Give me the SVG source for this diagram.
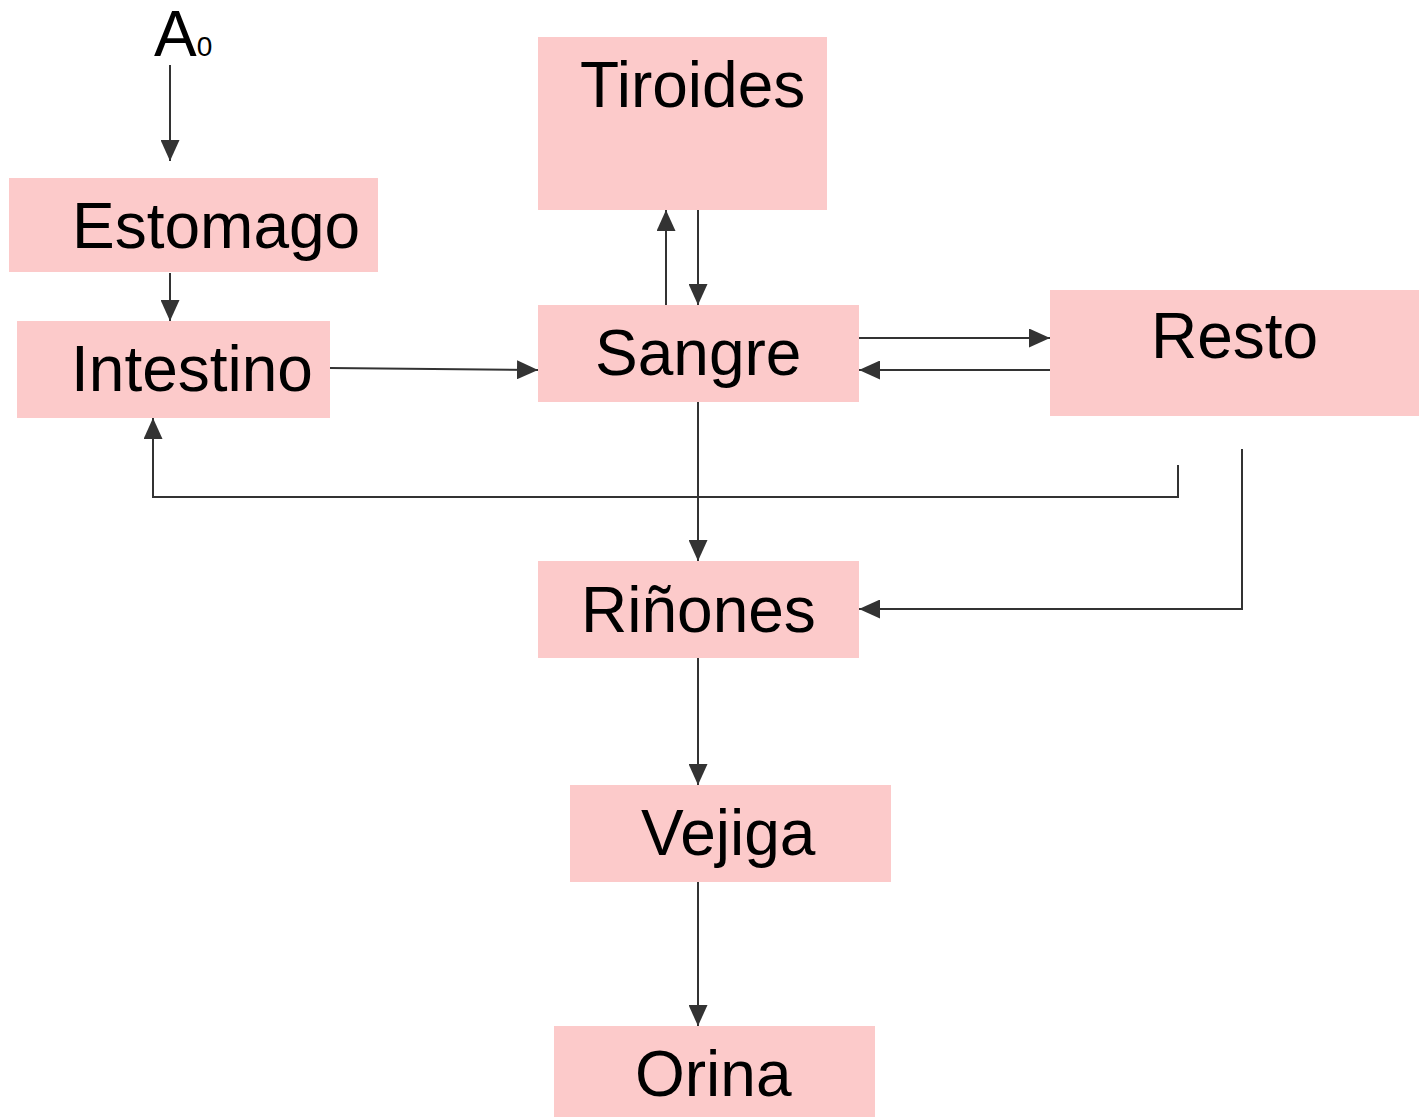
<svg xmlns="http://www.w3.org/2000/svg" width="1420" height="1117" viewBox="0 0 1420 1117">
<style>
.box{fill:#fccaca}
.lbl{font-family:"Liberation Sans",Arial,sans-serif;font-size:64px;fill:#000}
.edge{fill:none;stroke:#333;stroke-width:2}
</style>
<defs>
<marker id="ah" markerUnits="userSpaceOnUse" markerWidth="21" markerHeight="19" refX="21" refY="9.5" orient="auto">
<path d="M0,0 L21,9.5 L0,19 z" fill="#333"/>
</marker>
</defs>
<rect width="1420" height="1117" fill="#fff"/>
<g id="a0">
<text class="lbl" x="154" y="56" font-size="60">A<tspan font-size="28">0</tspan></text>
</g>
<g id="estomago"><rect class="box" x="9" y="178" width="369" height="94"/><text class="lbl" x="72" y="248">Estomago</text></g>
<g id="intestino"><rect class="box" x="17" y="321" width="313" height="97"/><text class="lbl" x="71" y="391">Intestino</text></g>
<g id="tiroides"><rect class="box" x="538" y="37" width="289" height="173"/><text class="lbl" x="580" y="107">Tiroides</text></g>
<g id="sangre"><rect class="box" x="538" y="305" width="321" height="97"/><text class="lbl" x="595" y="375">Sangre</text></g>
<g id="resto"><rect class="box" x="1050" y="290" width="369" height="126"/><text class="lbl" x="1151" y="358">Resto</text></g>
<g id="rinones"><rect class="box" x="538" y="561" width="321" height="97"/><text class="lbl" x="581" y="632">Riñones</text></g>
<g id="vejiga"><rect class="box" x="570" y="785" width="321" height="97"/><text class="lbl" x="641" y="855">Vejiga</text></g>
<g id="orina"><rect class="box" x="554" y="1026" width="321" height="91"/><text class="lbl" x="635" y="1096">Orina</text></g>
<g id="connectors">
<path class="edge" d="M170,65 V161" marker-end="url(#ah)"/>
<path class="edge" d="M170,273 V321" marker-end="url(#ah)"/>
<path class="edge" d="M330,368 L538,370" marker-end="url(#ah)"/>
<path class="edge" d="M666,305 V210" marker-end="url(#ah)"/>
<path class="edge" d="M698,210 V305" marker-end="url(#ah)"/>
<path class="edge" d="M859,338 H1050" marker-end="url(#ah)"/>
<path class="edge" d="M1050,370 H859" marker-end="url(#ah)"/>
<path class="edge" d="M698,402 V561" marker-end="url(#ah)"/>
<path class="edge" d="M1178,465 V497 H153 V418" marker-end="url(#ah)"/>
<path class="edge" d="M1242,449 V609 H859" marker-end="url(#ah)"/>
<path class="edge" d="M698,658 V785" marker-end="url(#ah)"/>
<path class="edge" d="M698,882 V1026" marker-end="url(#ah)"/>
</g>
</svg>
